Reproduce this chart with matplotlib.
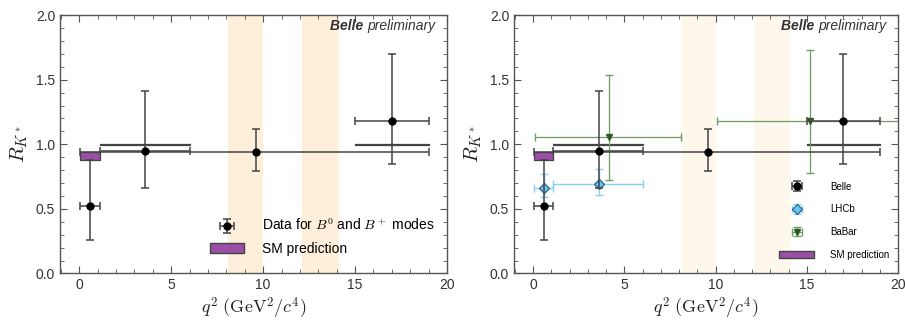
import matplotlib
matplotlib.use("Agg")
import matplotlib.pyplot as plt
from matplotlib.patches import Patch
from matplotlib.ticker import MultipleLocator

plt.rcParams["font.family"] = ["Liberation Sans", "DejaVu Sans"]
plt.rcParams["mathtext.fontset"] = "cm"

# Belle points
belle_x = [0.6, 3.6, 9.6, 17.0]
belle_y = [0.52, 0.95, 0.94, 1.18]
belle_xlo = [0.045, 1.1, 0.045, 15.0]
belle_xhi = [1.1, 6.0, 19.0, 19.0]
belle_up = [0.36, 0.46, 0.18, 0.52]
belle_dn = [0.26, 0.29, 0.15, 0.33]

# LHCb points
lhcb_x = [0.6, 3.6]
lhcb_y = [0.66, 0.69]
lhcb_xlo = [0.045, 1.1]
lhcb_xhi = [1.1, 6.0]
lhcb_up = [0.11, 0.12]
lhcb_dn = [0.07, 0.08]

# BaBar points
babar_x = [4.15, 15.15]
babar_y = [1.06, 1.18]
babar_xlo = [0.1, 10.1]
babar_xhi = [8.12, 20.6]
babar_up = [0.48, 0.55]
babar_dn = [0.34, 0.40]

# SM prediction bins
sm_xlo = [0.045, 1.1, 15.0]
sm_xhi = [1.1, 6.0, 19.0]
sm_ylo = [0.88, 0.993, 0.993]
sm_yhi = [0.94, 1.0, 1.0]
sm_face = ["#9b4fa6", "white", "white"]

# charmonium veto bands
veto_lo = [8.1, 12.1]
veto_hi = [10.0, 14.15]

PURPLE = "#9b4fa6"


def xerr(x, lo, hi):
    return [[a - b for a, b in zip(x, lo)], [b - a for a, b in zip(x, hi)]]


def style_axes(ax, band_color):
    for lo, hi in zip(veto_lo, veto_hi):
        ax.axvspan(lo, hi, color=band_color, lw=0, zorder=0)
    ax.set_xlim(-1.05, 20)
    ax.set_ylim(0, 2)
    ax.xaxis.set_major_locator(MultipleLocator(5))
    ax.xaxis.set_minor_locator(MultipleLocator(1))
    ax.yaxis.set_major_locator(MultipleLocator(0.5))
    ax.yaxis.set_minor_locator(MultipleLocator(0.1))
    ax.tick_params(which="both", direction="in", top=True, right=True,
                   color="#555555", labelcolor="#333333", labelsize=10)
    ax.tick_params(which="major", length=5)
    ax.tick_params(which="minor", length=3)
    ax.yaxis.set_major_formatter(matplotlib.ticker.FormatStrFormatter("%.1f"))
    for s in ax.spines.values():
        s.set_color("#555555")
        s.set_linewidth(1.0)
    ax.set_xlabel(r"$q^2\ (\mathrm{GeV}^2/c^4)$", fontsize=13, labelpad=2, color="#222222")
    ax.set_ylabel(r"$R_{K^*}$", fontsize=15, labelpad=4, color="#222222")
    pre = ax.text(0.97, 0.93, "preliminary", transform=ax.transAxes, ha="right",
                  va="bottom", fontsize=10, style="italic", color="#333333")
    ax.annotate("Belle ", xy=(0, 0), xycoords=pre, ha="right", va="bottom",
                fontsize=10, style="italic", weight="bold", color="#333333")


def draw_sm(ax):
    for lo, hi, ylo, yhi, fc in zip(sm_xlo, sm_xhi, sm_ylo, sm_yhi, sm_face):
        ax.fill_between([lo, hi], ylo, yhi, facecolor=fc, edgecolor="#444444", lw=0.9, zorder=2)


def draw_belle(ax):
    return ax.errorbar(belle_x, belle_y, xerr=xerr(belle_x, belle_xlo, belle_xhi),
                       yerr=[belle_dn, belle_up], fmt="o", color="black", ms=5,
                       ecolor="#444444", elinewidth=1.1, capsize=3, capthick=1.1, zorder=4)


fig = plt.figure(figsize=(9.05, 3.21), dpi=100)
ax1 = fig.add_axes([0.0663, 0.148, 0.4276, 0.805])
ax2 = fig.add_axes([0.568, 0.148, 0.4243, 0.805])

# left panel
style_axes(ax1, "#fdefd9")
draw_sm(ax1)
h_belle = draw_belle(ax1)
ax1.legend([h_belle, Patch(facecolor=PURPLE, edgecolor="#444444")],
           [r"Data for $B^0$ and $B^+$ modes", "SM prediction"],
           loc="lower right", bbox_to_anchor=(1.0, 0.02), frameon=False, fontsize=10,
           handlelength=2.4, handletextpad=1.3, labelspacing=0.6)

# right panel
style_axes(ax2, "#fdf7ec")
draw_sm(ax2)
h_lhcb = ax2.errorbar(lhcb_x, lhcb_y, xerr=xerr(lhcb_x, lhcb_xlo, lhcb_xhi),
                      yerr=[lhcb_dn, lhcb_up], fmt="D", mfc="#6ec6f0", mec="#2f6e96", ms=5,
                      ecolor="#8ed0f4", elinewidth=1.0, capsize=3, zorder=3)
h_babar = ax2.errorbar(babar_x, babar_y, xerr=xerr(babar_x, babar_xlo, babar_xhi),
                       yerr=[babar_dn, babar_up], fmt="v", color="#2f5a26", ms=5,
                       ecolor="#6f9a62", elinewidth=0.9, capsize=3, zorder=3)
h_belle2 = draw_belle(ax2)
ax2.legend([h_belle2, h_lhcb, h_babar, Patch(facecolor=PURPLE, edgecolor="#444444")],
           ["Belle", "LHCb", "BaBar", "SM prediction"],
           loc="lower right", bbox_to_anchor=(1.0, 0.02), frameon=False, fontsize=7,
           handlelength=3.6, handletextpad=1.6, labelspacing=1.3)

fig.savefig("out.png", dpi=100)
